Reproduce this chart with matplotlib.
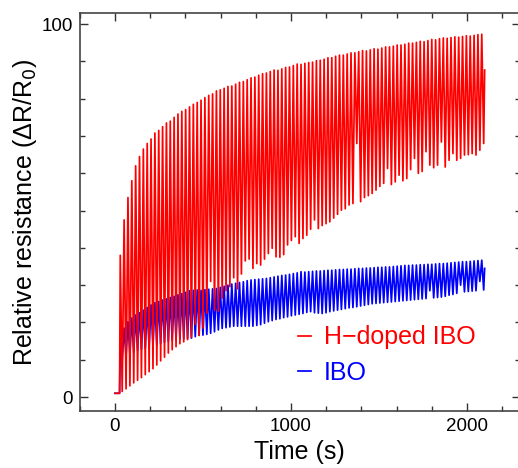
import matplotlib.pyplot as plt
import numpy as np

plt.rcParams['font.family'] = ['Liberation Sans', 'DejaVu Sans']

# cycle clock (s): first peak and period of the gas on/off pulses
t_first = 30.0
period = 21.85

# flat baseline before the first pulse
base_t = [0.0, 26.0]
base_red = [1.0, 1.0]
base_blue = [1.0, 1.0]

# H-doped IBO, per-cycle maxima and minima
red_peak = [38.0, 47.5, 53.5, 58.0, 62.0, 64.5, 66.5, 68.0, 69.2, 70.8,
            71.5, 72.5, 73.5, 74.0, 75.0, 75.9, 76.6, 77.1, 77.8, 78.5,
            79.0, 79.6, 80.3, 80.9, 81.3, 82.1, 82.4, 82.8, 83.3, 83.4,
            83.9, 84.4, 84.6, 85.1, 85.6, 85.8, 86.3, 86.7, 86.9, 87.3,
            87.7, 87.6, 88.0, 88.4, 88.5, 88.9, 89.3, 89.2, 89.5, 89.7,
            89.8, 90.2, 90.3, 90.6, 91.0, 91.0, 91.4, 91.7, 91.7, 92.0,
            92.3, 92.3, 92.6, 92.9, 92.8, 93.1, 93.4, 93.3, 93.6, 93.9,
            93.9, 94.1, 94.4, 94.4, 94.6, 94.9, 94.9, 95.1, 95.4, 95.3,
            95.6, 95.9, 95.8, 96.1, 96.3, 96.2, 96.4, 96.6, 96.5, 96.7,
            96.9, 96.8, 97.0, 97.2, 97.3]
red_low = [1.5, 2.2, 3.0, 3.8, 4.5, 5.2, 6.0, 6.8, 7.6, 8.6,
           9.7, 10.7, 11.8, 12.7, 13.5, 14.3, 14.8, 15.4, 16.0, 19.5,
           16.5, 18.5, 22.5, 31.0, 23.3, 23.0, 26.5, 28.5, 29.6, 32.0,
           29.0, 33.0, 36.5, 37.0, 34.5, 35.8, 35.4, 37.0, 38.5, 39.9,
           37.6, 37.5, 38.2, 40.8, 42.0, 43.0, 41.2, 42.5, 43.4, 45.0,
           47.5, 45.2, 46.0, 46.5, 47.0, 48.0, 49.0, 50.1, 50.5, 51.5,
           51.9, 68.0, 52.4, 53.5, 54.0, 54.6, 55.5, 56.5, 57.3, 61.3,
           57.0, 57.7, 59.5, 58.0, 58.6, 61.0, 64.0, 60.0, 60.5, 65.8,
           62.2, 61.5, 62.2, 68.4, 61.7, 63.5, 65.3, 63.5, 64.0, 64.9,
           65.0, 65.3, 64.9, 66.2, 68.0]
red_end = 87.7

# IBO, per-cycle maxima and minima
blue_peak = [15.7, 18.5, 20.2, 21.2, 22.0, 22.6, 23.3, 24.0, 24.7, 25.3,
             25.6, 26.0, 26.3, 26.7, 27.0, 27.4, 27.7, 28.1, 28.5, 28.6,
             28.7, 28.6, 28.8, 28.9, 29.0, 29.1, 29.4, 29.7, 30.0, 30.3,
             30.5, 30.7, 30.9, 31.2, 31.4, 31.5, 31.6, 31.7, 31.8, 32.0,
             32.2, 32.4, 32.6, 32.7, 32.9, 33.1, 33.3, 33.6, 33.5, 33.6,
             33.7, 33.8, 33.8, 33.9, 34.0, 34.0, 34.1, 34.2, 34.2, 34.3,
             34.3, 34.4, 34.5, 34.5, 34.6, 34.6, 34.7, 34.8, 34.8, 34.9,
             34.9, 35.0, 35.1, 35.2, 35.3, 35.3, 35.4, 35.4, 35.5, 35.5,
             35.6, 35.6, 35.7, 35.8, 35.8, 35.9, 36.0, 36.1, 36.2, 36.3,
             36.3, 36.4, 36.5, 36.6, 36.7]
blue_low = [10.0, 11.0, 11.5, 12.0, 12.4, 12.8, 13.1, 13.4, 13.7, 14.0,
            14.3, 14.6, 14.9, 15.1, 15.3, 15.5, 15.6, 15.7, 15.8, 16.2,
            16.6, 16.6, 16.8, 17.1, 17.5, 18.0, 18.4, 18.6, 18.8, 19.0,
            19.0, 19.0, 19.0, 19.0, 19.0, 19.2, 19.4, 19.8, 20.2, 20.5,
            20.8, 21.0, 21.3, 21.5, 21.8, 22.0, 22.2, 22.4, 22.7, 22.9,
            22.6, 22.5, 22.4, 22.6, 22.9, 23.1, 23.3, 23.5, 23.7, 23.9,
            24.0, 24.2, 24.4, 24.6, 24.8, 25.0, 25.1, 25.2, 25.3, 25.4,
            25.5, 25.6, 25.7, 25.8, 25.9, 26.0, 26.1, 26.2, 26.3, 26.4,
            28.5, 26.6, 26.7, 26.8, 27.0, 27.3, 27.5, 27.8, 30.0, 28.2,
            28.3, 28.4, 28.5, 31.0, 28.7]
blue_end = 34.5


def build(base_v, peaks, lows, end_v):
    n = len(peaks)
    tp = t_first + period * np.arange(n)
    tl = tp + period / 2
    t = np.empty(2 * n)
    v = np.empty(2 * n)
    t[0::2], t[1::2] = tp, tl
    v[0::2], v[1::2] = peaks, lows
    t = np.concatenate([base_t, t, [tl[-1] + period / 4]])
    v = np.concatenate([base_v, v, [end_v]])
    return t, v


fig = plt.figure(figsize=(5.18, 4.68), dpi=100)
ax = fig.add_axes([79.8 / 518, 57 / 468, 440 / 518, 398 / 468])

tb, vb = build(base_blue, blue_peak, blue_low, blue_end)
tr, vr = build(base_red, red_peak, red_low, red_end)
lb, = ax.plot(tb, vb, color='blue', lw=1.25, label='IBO')
lr, = ax.plot(tr, vr, color='red', lw=1.25, label='H\u2212doped IBO')

ax.set_xlim(-200, 2300)
ax.set_ylim(-3.75, 103)
ax.set_xticks([0, 1000, 2000])
ax.set_xticks(np.arange(-200, 2301, 200), minor=True)
ax.set_yticks([0, 100])
ax.set_yticks(np.arange(0, 101, 10), minor=True)
ax.tick_params(which='both', direction='in', top=True, right=True,
               labelsize=13.5, color='#333333', width=1.0)
ax.tick_params(which='major', length=6, pad=5)
ax.tick_params(which='minor', length=3.5)
for s in ax.spines.values():
    s.set_color('#444444')
    s.set_linewidth(1.2)

ax.set_xlabel('Time (s)', fontsize=18, labelpad=4)
ax.set_ylabel('Relative resistance (\u0394R/R$_0$)', fontsize=18, labelpad=2)

leg = ax.legend(handles=[lr, lb], loc='lower left',
                bbox_to_anchor=(0.444, 0.01), frameon=False, fontsize=18,
                handlelength=0.55, handletextpad=0.5, labelspacing=0.45,
                labelcolor='linecolor')

fig.savefig('out.png', dpi=100)
